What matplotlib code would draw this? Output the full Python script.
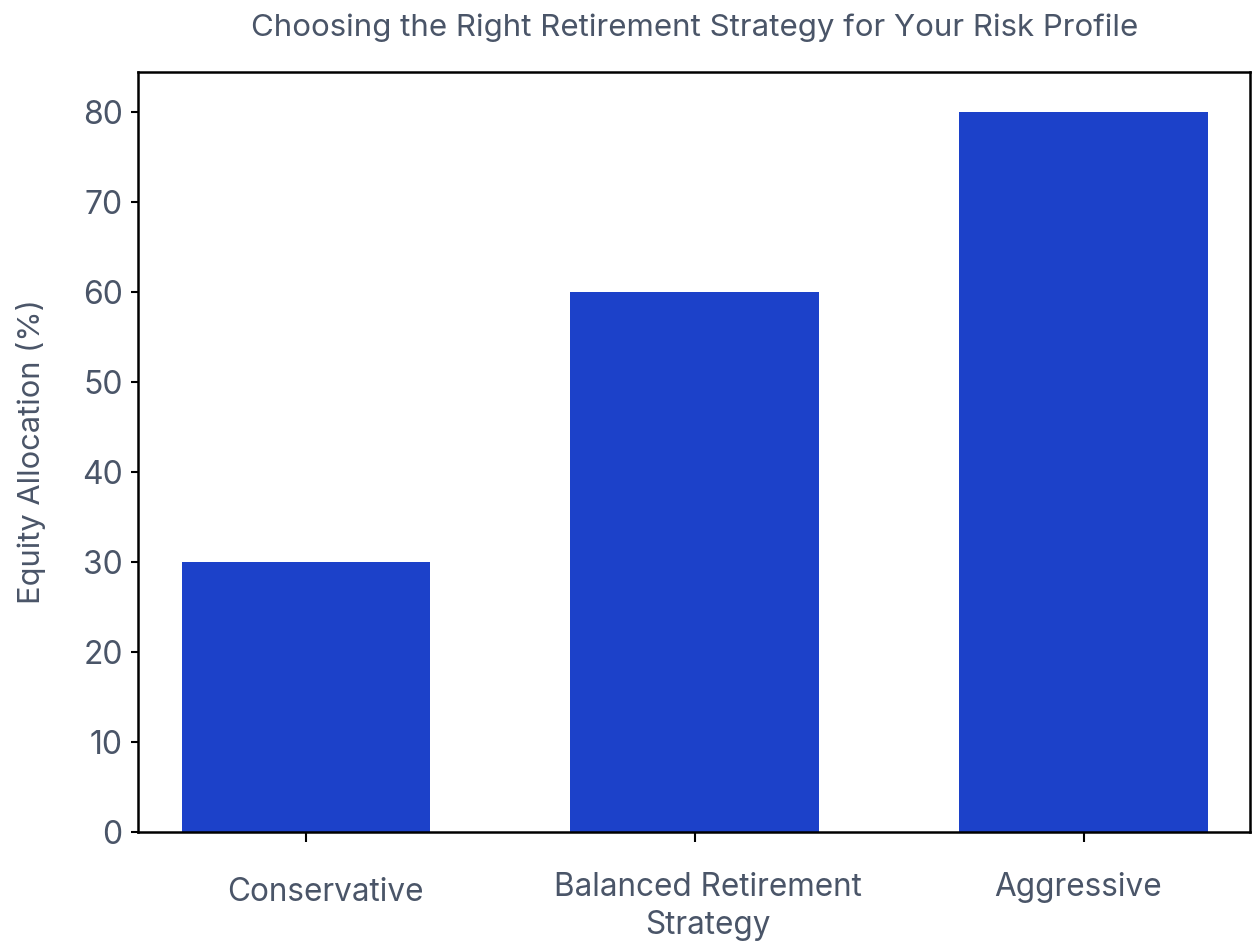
import matplotlib
matplotlib.use("Agg")
import matplotlib.pyplot as plt
import matplotlib.transforms as mtransforms

categories = ["Conservative", "Balanced Retirement\nStrategy", "Aggressive"]
equity = [30, 60, 80]
yticks = [0, 10, 20, 30, 40, 50, 60, 70, 80]

bar_color = "#1c41c9"
text_color = "#4a5568"

plt.rcParams["font.family"] = ["Inter", "DejaVu Sans"]

fig = plt.figure(figsize=(12.52, 9.42), dpi=100)
ax = fig.add_axes([0.1102, 0.1168, 0.8882, 0.8068])

x = range(len(categories))
ax.bar(x, equity, width=0.64, color=bar_color)

ax.set_xlim(-0.432, 2.428)
ax.set_ylim(0, 84.4)
ax.set_yticks(yticks)
ax.set_yticklabels([str(v) for v in yticks], fontsize=23, color=text_color)
ax.set_xticks(list(x))
ax.set_xticklabels(categories, fontsize=22.7, color=text_color, linespacing=1.27)
ax.tick_params(axis="x", length=7, width=1.5, pad=22)
ax.tick_params(axis="y", length=5, width=1.5, pad=6)

# small offsets of the category labels (pixels)
shifts = [(19, -5), (13, 0), (-6, 0)]
for lab, (dx, dy) in zip(ax.get_xticklabels(), shifts):
    lab.set_transform(lab.get_transform() +
                      mtransforms.ScaledTranslation(dx / 100, dy / 100, fig.dpi_scale_trans))

for s in ax.spines.values():
    s.set_linewidth(1.8)
    s.set_color("black")

ax.set_ylabel("Equity Allocation (%)", fontsize=22.2, color=text_color, labelpad=26)
fig.text(0.555, 0.971, "Choosing the Right Retirement Strategy for Your Risk Profile",
         ha="center", va="center", fontsize=22.5, color=text_color)

fig.savefig("out.png", dpi=100)
